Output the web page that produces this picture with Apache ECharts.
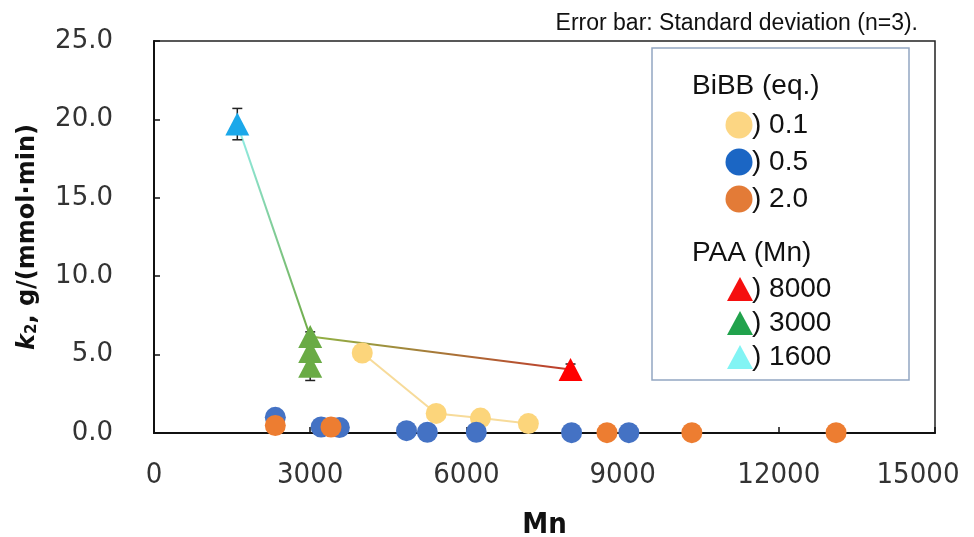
<!DOCTYPE html>
<html><head><meta charset="utf-8">
<script src="https://cdn.jsdelivr.net/npm/echarts@6/dist/echarts.min.js"></script>
<style>html,body{margin:0;padding:0;background:#fff}#c{width:974px;height:537px}</style>
</head><body><div id="c"></div>
<script>
// ---- data ----
var xTicks = [0, 3000, 6000, 9000, 12000, 15000];
var yTicks = [0, 5, 10, 15, 20, 25];
var bibb01Mn = [4000, 5420, 6270, 7190];
var bibb01K  = [5.1, 1.25, 0.95, 0.6];
var bibb05Mn = [2330, 3210, 3560, 4850, 5250, 6190, 8020, 9120];
var bibb05K  = [1.0, 0.38, 0.35, 0.15, 0.05, 0.05, 0.02, 0.02];
var bibb20Mn = [2330, 3400, 8700, 10330, 13100];
var bibb20K  = [0.48, 0.38, 0.02, 0.02, 0.02];
var paa1600Mn = [1600];
var paa1600K  = [19.7];
var paa1600Err = [1.0];
var paa3000Mn = [3000, 3000, 3000];
var paa3000K  = [6.15, 5.2, 4.25];
var paa3000Err = [0.3, 0.3, 0.9];
var paa8000Mn = [8000];
var paa8000K  = [4.05];
var paa8000Err = [0.35];
var trendMn = [1600, 3000, 8000];
var trendK  = [19.7, 6.15, 4.05];
var legendBiBB = ['0.1', '0.5', '2.0'];
var legendPAA = ['8000', '3000', '1600'];

function zip(a, b) { return a.map(function (v, i) { return [v, b[i]]; }); }
function zip3(a, b, c) { return a.map(function (v, i) { return [v, b[i], c[i]]; }); }

var chart = echarts.init(document.getElementById('c'), null, {renderer: 'canvas'});

function errRender(params, api) {
  var x = api.value(0), y = api.value(1), e = api.value(2);
  var top = api.coord([x, y + e]);
  var bot = api.coord([x, y - e]);
  var hw = 5;
  var st = {stroke: '#222', lineWidth: 1.5};
  return {type: 'group', children: [
    {type: 'line', shape: {x1: top[0], y1: top[1], x2: bot[0], y2: bot[1]}, style: st},
    {type: 'line', shape: {x1: top[0] - hw, y1: top[1], x2: top[0] + hw, y2: top[1]}, style: st},
    {type: 'line', shape: {x1: bot[0] - hw, y1: bot[1], x2: bot[0] + hw, y2: bot[1]}, style: st}
  ]};
}

var errData = zip3(paa1600Mn, paa1600K, paa1600Err)
  .concat(zip3(paa3000Mn, paa3000K, paa3000Err))
  .concat(zip3(paa8000Mn, paa8000K, paa8000Err));

var LG = echarts.graphic.LinearGradient;
var triSize = [24, 23];

var lf = 'Liberation Sans, Arial, Helvetica, sans-serif';
var xf = '"DejaVu Sans Condensed", "DejaVu Sans", sans-serif';
var legendRowsB = [125, 162, 199];
var legendColsB = ['#FCD683', '#1B66C4', '#E37B37'];
var legendRowsP = [289, 323, 357];
var legendColsP = ['#F50F0F', '#21A24C', '#82F4F4'];
var g = [
  {type: 'rect', shape: {x: 652, y: 48, width: 257, height: 332}, style: {fill: '#fff', stroke: '#93a6c2', lineWidth: 1.5}, z: 10},
  {type: 'text', x: 692, y: 86, style: {text: 'BiBB (eq.)', font: '28px ' + lf, fill: '#111', textVerticalAlign: 'middle'}, z: 11},
  {type: 'text', x: 692, y: 253, style: {text: 'PAA (Mn)', font: '28px ' + lf, fill: '#111', textVerticalAlign: 'middle'}, z: 11}
];
legendBiBB.forEach(function (t, i) {
  g.push({type: 'circle', shape: {cx: 739, cy: legendRowsB[i], r: 13.5}, style: {fill: legendColsB[i]}, z: 11});
  g.push({type: 'text', x: 752, y: legendRowsB[i], style: {text: ') ' + t, font: '28px ' + lf, fill: '#111', textVerticalAlign: 'middle'}, z: 11});
});
legendPAA.forEach(function (t, i) {
  var cy = legendRowsP[i];
  g.push({type: 'polygon', shape: {points: [[740, cy - 12], [753, cy + 12], [727, cy + 12]]}, style: {fill: legendColsP[i]}, z: 11});
  g.push({type: 'text', x: 752, y: cy, style: {text: ') ' + t, font: '28px ' + lf, fill: '#111', textVerticalAlign: 'middle'}, z: 11});
});

var option = {
  animation: false,
  backgroundColor: '#fff',
  title: {
    text: 'Error bar: Standard deviation (n=3).',
    right: 51, top: 7,
    textStyle: {fontFamily: lf, fontSize: 23, fontWeight: 'normal', color: '#111'}
  },
  grid: {left: 154, right: 39, top: 41, bottom: 104, show: true, borderColor: '#222', borderWidth: 1.5,
    backgroundColor: 'transparent', containLabel: false, outerBoundsMode: 'none'},
  xAxis: {
    type: 'value', min: 0, max: 15000, interval: 3000,
    name: 'Mn', nameLocation: 'middle', nameGap: 78,
    nameTextStyle: {fontFamily: xf, fontWeight: 'bold', fontSize: 29, color: '#111'},
    axisLine: {lineStyle: {color: '#111', width: 2}},
    axisTick: {inside: true, length: 6, lineStyle: {color: '#111', width: 1.5}},
    axisLabel: {margin: 28, fontFamily: xf, fontSize: 29, color: '#333',
      formatter: function (v) { return v === xTicks[xTicks.length - 1] ? '{r|' + v + '}' : String(v); },
      rich: {r: {fontFamily: xf, fontSize: 29, color: '#333', padding: [0, 34, 0, 0]}}},
    splitLine: {show: false}
  },
  yAxis: {
    type: 'value', min: 0, max: 25, interval: 5,
    name: '{k|k}{s|2}{b|, g/(mmol·min)}', nameLocation: 'middle', nameGap: 114, nameRotate: 90,
    nameTextStyle: {
      rich: {
        k: {fontFamily: '"DejaVu Sans", sans-serif', fontWeight: 'bold', fontStyle: 'italic', fontSize: 24, color: '#111'},
        s: {fontFamily: '"DejaVu Sans", sans-serif', fontWeight: 'bold', fontSize: 15, color: '#111', padding: [10, 0, 0, 0]},
        b: {fontFamily: '"DejaVu Sans", sans-serif', fontWeight: 'bold', fontSize: 24, color: '#111'}
      }
    },
    axisLine: {show: true, lineStyle: {color: '#111', width: 2}},
    axisTick: {show: true, inside: true, length: 6, lineStyle: {color: '#111', width: 1.5}},
    axisLabel: {margin: 41, fontFamily: '"DejaVu Sans", sans-serif', fontSize: 26, color: '#333',
      formatter: function (v) { return v.toFixed(1); }},
    splitLine: {show: false}
  },
  series: [
    {type: 'line', data: zip(trendMn.slice(0, 2), trendK.slice(0, 2)), symbol: 'none', z: 1,
      lineStyle: {width: 2, color: new LG(0, 0, 1, 0, [{offset: 0, color: '#93F1F1'}, {offset: 1, color: '#6EA83E'}])}},
    {type: 'line', data: zip(trendMn.slice(1), trendK.slice(1)), symbol: 'none', z: 1,
      lineStyle: {width: 2, color: new LG(0, 0, 1, 0, [{offset: 0, color: '#8FB545'}, {offset: 1, color: '#C0392B'}])}},
    {type: 'line', data: zip(bibb01Mn, bibb01K), symbol: 'none', z: 1,
      lineStyle: {width: 2, color: '#F7DB9A'}},
    {type: 'scatter', data: zip(bibb01Mn, bibb01K), symbol: 'circle', symbolSize: 21, z: 2,
      itemStyle: {color: '#FCD57B', opacity: 1}},
    {type: 'scatter', data: zip(bibb05Mn, bibb05K), symbol: 'circle', symbolSize: 21, z: 3,
      itemStyle: {color: '#4472C4', opacity: 1}},
    {type: 'scatter', data: zip(bibb20Mn, bibb20K), symbol: 'circle', symbolSize: 21, z: 4,
      itemStyle: {color: '#ED7D31', opacity: 1}},
    {type: 'custom', data: errData, renderItem: errRender, z: 5},
    {type: 'scatter', data: zip(paa1600Mn, paa1600K), symbol: 'triangle', symbolSize: triSize, z: 6,
      itemStyle: {color: '#1BA8EA', opacity: 1}},
    {type: 'scatter', data: zip(paa3000Mn, paa3000K), symbol: 'triangle', symbolSize: triSize, z: 6,
      itemStyle: {color: '#6AAB45', opacity: 1}},
    {type: 'scatter', data: zip(paa8000Mn, paa8000K), symbol: 'triangle', symbolSize: triSize, z: 6,
      itemStyle: {color: '#FF0000', opacity: 1}}
  ],
  graphic: g
};
chart.setOption(option);
</script>
</body></html>
